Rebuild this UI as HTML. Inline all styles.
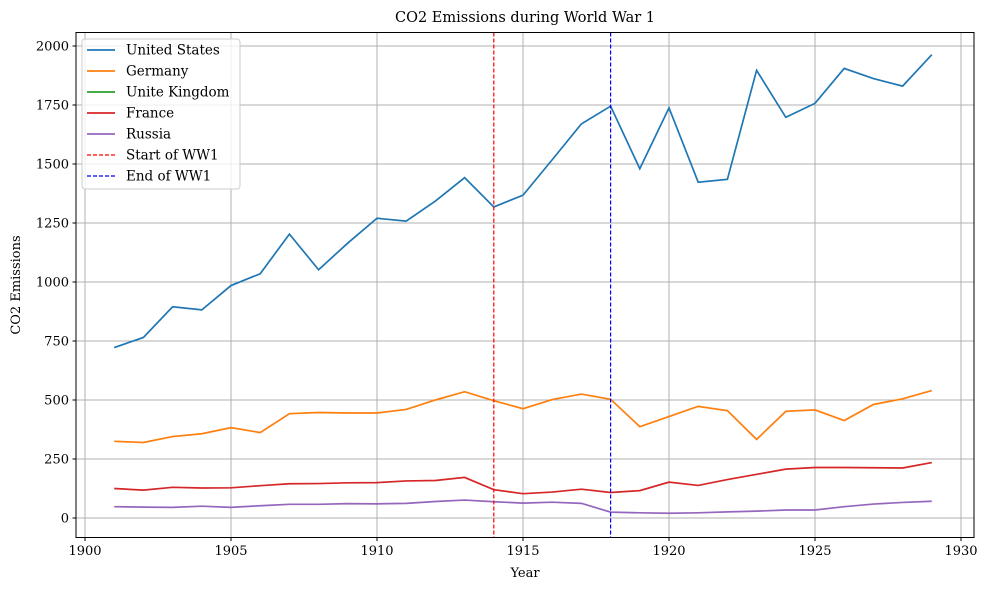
<!DOCTYPE html>
<html><head><meta charset="utf-8"><style>
html,body{margin:0;padding:0;background:#fff;}
svg text{font-family:"DejaVu Serif","Liberation Serif",serif;fill:#000;}
</style></head><body>
<svg id="chart" width="988" height="590" viewBox="0 0 988 590" xmlns="http://www.w3.org/2000/svg">
<g id="grid"></g>
<g id="lines"></g>
<rect x="76" y="32.5" width="898" height="505" fill="none" stroke="#000" stroke-width="1"/>
<g id="axes"></g>
<text x="525" y="22" font-size="14.5" text-anchor="middle">CO2 Emissions during World War 1</text>
<text x="525" y="577" font-size="13" text-anchor="middle">Year</text>
<text x="20" y="285" font-size="13" text-anchor="middle" transform="rotate(-90 20 285)">CO2 Emissions</text>
<g id="legend"></g>
</svg>
<script>
const years=[1901,1902,1903,1904,1905,1906,1907,1908,1909,1910,1911,1912,1913,1914,1915,1916,1917,1918,1919,1920,1921,1922,1923,1924,1925,1926,1927,1928,1929];
const usValues=[722,765,895,882,985,1035,1203,1052,1165,1270,1258,1343,1442,1318,1368,1518,1670,1745,1480,1738,1423,1435,1897,1698,1757,1905,1862,1830,1963];
const germanyValues=[325,320,345,357,383,362,442,447,445,445,460,500,535,497,463,502,525,503,387,430,473,455,333,452,458,413,481,505,540];
const ukValues=[];
const franceValues=[125,118,130,127,128,137,145,146,149,150,157,159,172,120,103,110,122,108,116,152,138,163,185,207,214,214,213,212,235];
const russiaValues=[48,46,45,50,45,52,58,58,61,60,62,70,76,69,63,67,62,25,22,20,22,26,29,34,34,48,59,66,71];
const xTicks=[1900,1905,1910,1915,1920,1925,1930];
const yTicks=[0,250,500,750,1000,1250,1500,1750,2000];
const warStart=1914, warEnd=1918;
const NS="http://www.w3.org/2000/svg";
function xs(v){return 85+(v-1900)*(961-85)/30;}
function ys(v){return 518-v*(518-46)/2000;}
function mk(t,a,p){const e=document.createElementNS(NS,t);for(const k in a)e.setAttribute(k,a[k]);p.appendChild(e);return e;}
const grid=document.getElementById('grid'),axes=document.getElementById('axes'),lines=document.getElementById('lines'),lg=document.getElementById('legend');
xTicks.forEach(t=>{const x=xs(t);
 const g=mk('line',{x1:x,x2:x,y1:32.5,y2:537.5,stroke:'#b0b0b0','stroke-width':1},grid);
 
 
 mk('line',{x1:x,x2:x,y1:537.5,y2:541,stroke:'#000'},axes);
 const tx=mk('text',{x:x,y:555,'font-size':13,'text-anchor':'middle'},axes);tx.textContent=t;
 
 
});
yTicks.forEach(t=>{const y=ys(t);
 const g=mk('line',{x1:76,x2:974,y1:y,y2:y,stroke:'#b0b0b0','stroke-width':1},grid);
 
 
 mk('line',{x1:72.5,x2:76,y1:y,y2:y,stroke:'#000'},axes);
 const tx=mk('text',{x:69,y:y+4.5,'font-size':13,'text-anchor':'end'},axes);tx.textContent=t;
 
 
});
const series=[["United States",usValues,"#1f77b4","us-line"],["Germany",germanyValues,"#ff7f0e","germany-line"],["Unite Kingdom",ukValues,"#2ca02c","uk-line"],["France",franceValues,"#d62728","france-line"],["Russia",russiaValues,"#9467bd","russia-line"]];
series.forEach(s=>{if(!s[1].length)return;
 const p=mk('polyline',{points:s[1].map((v,i)=>xs(years[i])+','+ys(v)).join(' '),fill:'none',stroke:s[2],'stroke-width':1.7},lines);
 
 
});
const ws=mk('line',{x1:xs(warStart),x2:xs(warStart),y1:32.5,y2:537.5,stroke:'red','stroke-width':1.2,'stroke-dasharray':'4,2'},lines);


const we=mk('line',{x1:xs(warEnd),x2:xs(warEnd),y1:32.5,y2:537.5,stroke:'blue','stroke-width':1.2,'stroke-dasharray':'4,2'},lines);


mk('rect',{x:82,y:39,width:158,height:150,rx:3,fill:'#fff','fill-opacity':0.8,stroke:'#ccc'},lg);
const items=series.map(s=>[s[0],s[2],false]).concat([["Start of WW1","red",true],["End of WW1","blue",true]]);
items.forEach((it,i)=>{const y=50+i*21;
 const l=mk('line',{x1:87,x2:115,y1:y,y2:y,stroke:it[1],'stroke-width':it[2]?1.2:1.7},lg);
 if(it[2])l.setAttribute('stroke-dasharray','4,2');
 const t=mk('text',{x:126,y:y+4.5,'font-size':13.5},lg);t.textContent=it[0];
 
 
});
</script>
</body></html>
